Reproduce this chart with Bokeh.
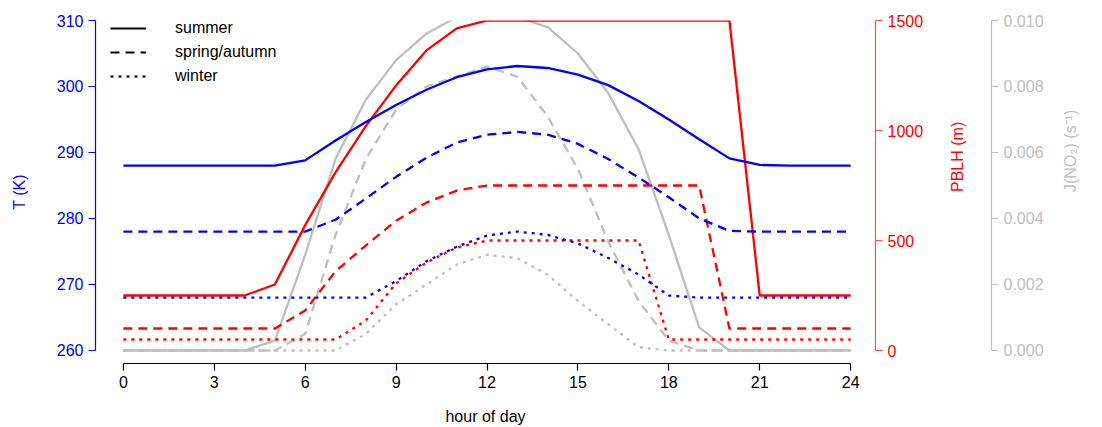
from bokeh.embed import file_html
from bokeh.resources import INLINE
from bokeh.models import (Range1d, LinearAxis, Legend, LegendItem, FixedTicker,
                          PrintfTickFormatter)
from bokeh.plotting import figure

hours = list(range(25))

# temperature (K)
t_summer = [288, 288, 288, 288, 288, 288, 288.8, 291.8, 294.6, 297.2, 299.5, 301.4, 302.6,
            303.1, 302.8, 301.8, 300.2, 297.8, 295.0, 292.0, 289.1, 288.1, 288, 288, 288]
t_spring = [278, 278, 278, 278, 278, 278, 278, 279.8, 283.0, 286.3, 289.2, 291.5, 292.7,
            293.1, 292.7, 291.3, 289.0, 286.2, 283.2, 280.0, 278.1, 278, 278, 278, 278]
t_winter = [268, 268, 268, 268, 268, 268, 268, 268, 268, 270.5, 273.5, 275.7, 277.4,
            278.0, 277.5, 276.2, 274.0, 271.5, 268.3, 268, 268, 268, 268, 268, 268]

# boundary layer height (m)
pblh_summer = [250, 250, 250, 250, 250, 300, 570, 810, 1020, 1205, 1364, 1464, 1500,
               1500, 1500, 1500, 1500, 1500, 1500, 1500, 1500, 250, 250, 250, 250]
pblh_spring = [100, 100, 100, 100, 100, 100, 182, 360, 477, 590, 672, 727, 750,
               750, 750, 750, 750, 750, 750, 750, 100, 100, 100, 100, 100]
pblh_winter = [50, 50, 50, 50, 50, 50, 50, 50, 136, 305, 400, 468, 500,
               500, 500, 500, 500, 500, 50, 50, 50, 50, 50, 50, 50]

# photolysis rate J(NO2) (1/s)
j_summer = [0, 0, 0, 0, 0, 0.0003, 0.0029, 0.0058, 0.0076, 0.0088, 0.0096, 0.0101, 0.0102,
            0.0101, 0.0098, 0.0090, 0.0078, 0.0061, 0.0035, 0.0007, 0, 0, 0, 0, 0]
j_spring = [0, 0, 0, 0, 0, 0, 0.0005, 0.0035, 0.0058, 0.0073, 0.0080, 0.0083, 0.0086,
            0.0083, 0.0071, 0.0055, 0.0033, 0.0015, 0.0003, 0, 0, 0, 0, 0, 0]
j_winter = [0, 0, 0, 0, 0, 0, 0, 0, 0.0005, 0.0014, 0.0020, 0.0026, 0.0029,
            0.0028, 0.0023, 0.0015, 0.0008, 0.0001, 0, 0, 0, 0, 0, 0, 0]

seasons = ["summer", "spring/autumn", "winter"]
dashes = ["solid", "9 6", "3 5"]

BLUE = "#0000ff"
RED = "#ff0000"
GREY = "#bebebe"
FONT = "Liberation Sans"
FS = "16px"

p = figure(width=1090, height=427, output_backend="svg", toolbar_location=None,
           x_range=Range1d(-0.92, 24.82), y_range=Range1d(258.0, 310),
           min_border_left=95, min_border_right=210, min_border_top=20, min_border_bottom=60)
p.xaxis.visible = False
p.yaxis.visible = False
p.grid.visible = False
p.outline_line_color = None
p.extra_y_ranges = {"pblh": Range1d(-59, 1500), "j": Range1d(-0.000394, 0.010)}


def style(ax, color, label_color=None):
    ax.axis_line_color = color
    ax.major_tick_line_color = color
    ax.major_label_text_color = label_color or color
    ax.axis_label_text_color = label_color or color
    ax.minor_tick_line_color = None
    ax.major_tick_out = 7
    ax.major_tick_in = 0
    ax.major_label_text_font = FONT
    ax.axis_label_text_font = FONT
    ax.major_label_text_font_size = FS
    ax.axis_label_text_font_size = FS
    ax.axis_label_text_font_style = "normal"
    ax.axis_line_width = 1.2
    ax.major_tick_line_width = 1.2


xa = LinearAxis(axis_label="hour of day", ticker=FixedTicker(ticks=list(range(0, 25, 3))),
                bounds=(0, 24))
style(xa, "black")
xa.axis_label_standoff = 17
p.add_layout(xa, "below")

ta = LinearAxis(axis_label="T (K)", ticker=FixedTicker(ticks=list(range(260, 311, 10))),
                bounds=(260, 310))
style(ta, BLUE)
ta.axis_label_standoff = 26
p.add_layout(ta, "left")

pa = LinearAxis(y_range_name="pblh", axis_label="PBLH (m)",
                ticker=FixedTicker(ticks=[0, 500, 1000, 1500]), bounds=(0, 1500))
style(pa, "#ff4d4d", RED)
pa.axis_label_standoff = 31
p.add_layout(pa, "right")

# empty spacer between the two right axes
gap = LinearAxis(ticker=FixedTicker(ticks=[]), axis_line_color=None,
                 major_tick_line_color=None, minor_tick_line_color=None,
                 axis_label="x", axis_label_text_alpha=0, axis_label_standoff=0,
                 axis_label_text_font_size="10px")
p.add_layout(gap, "right")

ja = LinearAxis(y_range_name="j", axis_label="J(NO\u2082) (s\u207b\u00b9)",
                ticker=FixedTicker(ticks=[0, 0.002, 0.004, 0.006, 0.008, 0.010]),
                bounds=(0, 0.010), formatter=PrintfTickFormatter(format="%.3f"))
style(ja, GREY)
ja.axis_label_standoff = 24
p.add_layout(ja, "right")

# right-hand titles reading bottom to top
for ax in (pa, ja):
    ax.axis_label_orientation = 1.5707963267948966

lw = 2.3
for ys, d in zip([j_summer, j_spring, j_winter], dashes):
    p.line(hours, ys, y_range_name="j", line_color=GREY, line_width=lw, line_dash=d)
for ys, d in zip([pblh_summer, pblh_spring, pblh_winter], dashes):
    p.line(hours, ys, y_range_name="pblh", line_color=RED, line_width=lw, line_dash=d)
for ys, d in zip([t_summer, t_spring, t_winter], dashes):
    p.line(hours, ys, line_color=BLUE, line_width=lw, line_dash=d)

items = []
for name, d in zip(seasons, dashes):
    r = p.line([0], [float("nan")], line_color="black", line_width=2, line_dash=d)
    items.append(LegendItem(label=name, renderers=[r]))
leg = Legend(items=items, location=(15, 278), border_line_color=None,
             background_fill_alpha=0, label_text_font=FONT, label_text_font_size=FS,
             label_text_color="black", glyph_width=36, glyph_height=16, label_height=16,
             spacing=6, margin=0, padding=0, label_standoff=29)
p.add_layout(leg)

open("out.html", "w").write(file_html(p, INLINE))
